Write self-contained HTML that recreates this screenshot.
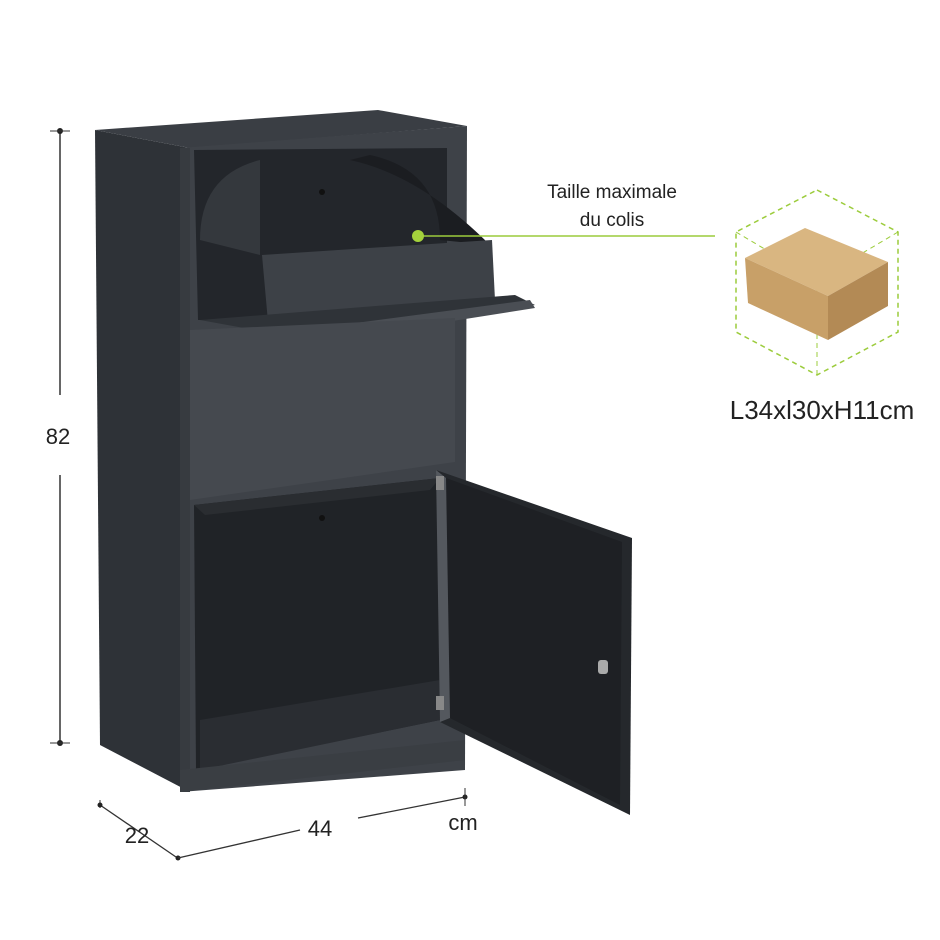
<!DOCTYPE html>
<html><head><meta charset="utf-8"><style>
html,body{margin:0;padding:0;background:#fff;}
svg{display:block;}
text{font-family:"Liberation Sans",sans-serif;fill:#222;}
</style></head><body>
<svg width="940" height="940" viewBox="0 0 940 940" xmlns="http://www.w3.org/2000/svg">
<line x1="60" y1="131" x2="60" y2="395" stroke="#333" stroke-width="1.5"/>
<line x1="60" y1="475" x2="60" y2="743" stroke="#333" stroke-width="1.5"/>
<circle cx="60" cy="131" r="3" fill="#222"/><circle cx="60" cy="743" r="3" fill="#222"/>
<line x1="50" y1="131" x2="70" y2="131" stroke="#333"/><line x1="50" y1="743" x2="70" y2="743" stroke="#333"/>
<text x="58" y="444" font-size="22" text-anchor="middle">82</text>

<polygon points="95,130 190,148 190,792 100,745" fill="#2e3237"/>
<polygon points="95,130 378,110 467,126 190,148" fill="#3a3e44"/>
<polygon points="180,148 467,126 465,770 180,792" fill="#3e4248"/>
<polygon points="180,148 190,148 190,792 180,792" fill="#373b40"/>
<polygon points="194,150 447,148 447,320 198,320" fill="#23262b"/>
<path d="M200,240 Q200,175 260,160 L260,255 Z" fill="#34383d"/>
<path d="M440,240 Q440,170 370,155 L350,160 Q420,175 490,245 Z" fill="#1b1d21"/>
<polygon points="262,255 492,240 495,300 268,322" fill="#3d4147"/>
<polygon points="200,320 515,295 535,305 265,350 255,330" fill="#2f3338"/>
<polygon points="265,335 530,300 535,308 268,350" fill="#4a4e54"/>
<polygon points="190,330 455,318 455,462 190,500" fill="#45494f"/>
<polygon points="194,505 440,478 440,720 196,770" fill="#202327"/>
<polygon points="200,720 440,680 440,720 200,770" fill="#2a2d32"/>
<polygon points="194,505 440,478 430,490 205,515" fill="#2a2d31"/>
<circle cx="322" cy="518" r="3" fill="#111"/>
<circle cx="322" cy="192" r="3" fill="#111"/>
<polygon points="180,770 465,740 465,760 180,792" fill="#3a3e43"/>
<polygon points="436,470 632,538 630,815 440,722" fill="#25282c"/>
<polygon points="446,478 622,542 620,805 450,718" fill="#1e2024"/>
<polygon points="436,470 446,478 450,718 440,722" fill="#54585e"/>
<rect x="598" y="660" width="10" height="14" rx="3" fill="#aaa"/>
<rect x="436" y="476" width="8" height="14" fill="#888"/><rect x="436" y="696" width="8" height="14" fill="#888"/>

<line x1="418" y1="236" x2="715" y2="236" stroke="#9ccc3c" stroke-width="1.5"/>
<circle cx="418" cy="236" r="6" fill="#a4d23c"/>
<text x="612" y="198" font-size="19" text-anchor="middle">Taille maximale</text>
<text x="612" y="226" font-size="19" text-anchor="middle">du colis</text>

<polygon points="817,190 898,232 898,332 817,375 736,332 736,232" fill="none" stroke="#9ccc3c" stroke-width="1.5" stroke-dasharray="5,4"/>
<line x1="817" y1="280" x2="817" y2="375" stroke="#9ccc3c" stroke-dasharray="5,4"/>
<line x1="736" y1="232" x2="817" y2="280" stroke="#9ccc3c" stroke-dasharray="5,4"/>
<line x1="898" y1="232" x2="817" y2="280" stroke="#9ccc3c" stroke-dasharray="5,4"/>
<polygon points="745,258 805,228 888,262 828,296" fill="#d9b681"/>
<polygon points="745,258 828,296 828,340 748,303" fill="#c8a068"/>
<polygon points="828,296 888,262 888,306 828,340" fill="#b38a55"/>
<text x="822" y="419" font-size="26" text-anchor="middle">L34xl30xH11cm</text>

<line x1="100" y1="800" x2="100" y2="808" stroke="#333"/>
<line x1="100" y1="805" x2="176" y2="857" stroke="#333" stroke-width="1.3"/>
<circle cx="100" cy="805" r="2.5" fill="#222"/><circle cx="178" cy="858" r="2.5" fill="#222"/>
<line x1="178" y1="858" x2="300" y2="830" stroke="#333" stroke-width="1.3"/>
<line x1="358" y1="818" x2="465" y2="797" stroke="#333" stroke-width="1.3"/>
<circle cx="465" cy="797" r="2.5" fill="#222"/>
<line x1="465" y1="788" x2="465" y2="806" stroke="#333"/>
<text x="137" y="843" font-size="22" text-anchor="middle">22</text>
<text x="320" y="836" font-size="22" text-anchor="middle">44</text>
<text x="463" y="830" font-size="22" text-anchor="middle">cm</text>
</svg>
</body></html>
